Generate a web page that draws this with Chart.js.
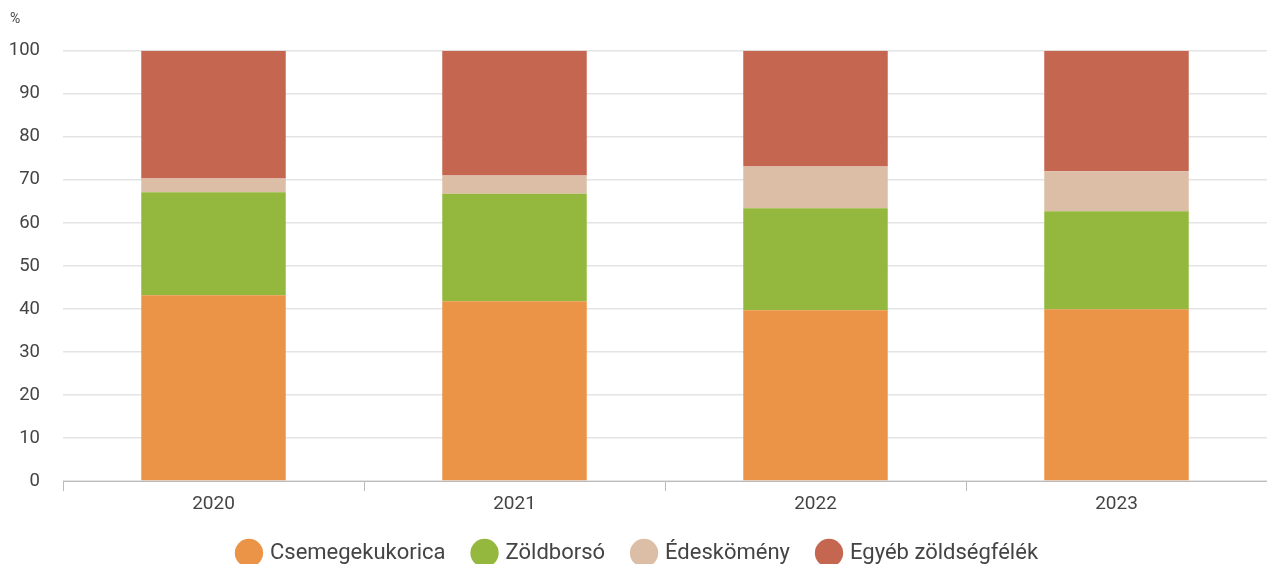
<!DOCTYPE html>
<html>
<head>
<meta charset="utf-8">
<script src="https://cdn.jsdelivr.net/npm/chart.js@4"></script>
<style>
  html, body { margin: 0; padding: 0; background: #fff; overflow: hidden; }
  #wrap { width: 1267px; height: 574px; }
</style>
</head>
<body>
<div id="wrap"><canvas id="myChart"></canvas></div>
<script>
// Adatok
const evek = ['2020', '2021', '2022', '2023'];
const csemegekukorica = [43.2, 41.8, 39.7, 39.9];
const zoldborso = [23.9, 25.0, 23.7, 22.8];
const edeskomeny = [3.2, 4.2, 9.7, 9.3];
const egyeb = [29.7, 29.0, 26.9, 28.0];
const yTicks = [0, 10, 20, 30, 40, 50, 60, 70, 80, 90, 100];

Chart.defaults.font.family = 'Roboto, "Noto Sans", sans-serif';
Chart.defaults.color = '#444';

function dataset(label, data, color) {
    return {
        label: label,
        data: data,
        backgroundColor: color,
        borderWidth: 0,
        barPercentage: 0.48,
        categoryPercentage: 1.0
    };
}

const ctx = document.getElementById('myChart').getContext('2d');
const myChart = new Chart(ctx, {
    type: 'bar',
    data: {
        labels: evek,
        datasets: [
            dataset('Csemegekukorica', csemegekukorica, '#EB9447'),
            dataset('Zöldborsó', zoldborso, '#94B73D'),
            dataset('Édeskömény', edeskomeny, '#DBBEA5'),
            dataset('Egyéb zöldségfélék', egyeb, '#C56650')
        ]
    },
    options: {
        responsive: true,
        maintainAspectRatio: false,
        animation: false,
        layout: { padding: { left: 10, right: 0, top: 0, bottom: 0 } },
        plugins: {
            title: {
                display: true,
                text: '%',
                align: 'start',
                color: '#444',
                font: { size: 14, weight: 'normal' },
                padding: { top: 11, bottom: 23 }
            },
            legend: {
                position: 'bottom',
                labels: {
                    usePointStyle: true,
                    pointStyle: 'circle',
                    boxWidth: 20,
                    boxHeight: 20,
                    padding: 29,
                    color: '#444',
                    font: { size: 22 }
                }
            },
            tooltip: { enabled: false }
        },
        scales: {
            x: {
                stacked: true,
                offset: true,
                afterFit: scale => { scale.height = 32; },
                grid: {
                    display: true,
                    offset: true,
                    drawOnChartArea: false,
                    drawTicks: true,
                    tickLength: 10,
                    color: '#bbb'
                },
                border: { display: true, color: '#bbb' },
                ticks: { font: { size: 19 }, padding: 2, color: '#444' }
            },
            y: {
                stacked: true,
                min: 0,
                max: 100,
                afterBuildTicks: scale => { scale.ticks = yTicks.map(v => ({ value: v })); },
                afterFit: scale => { scale.width = 53; },
                grid: { color: '#e4e4e4', drawTicks: false, lineWidth: 1.5 },
                border: { display: false },
                ticks: { font: { size: 18.5 }, padding: 23, color: '#444' }
            }
        }
    }
});
</script>
</body>
</html>
